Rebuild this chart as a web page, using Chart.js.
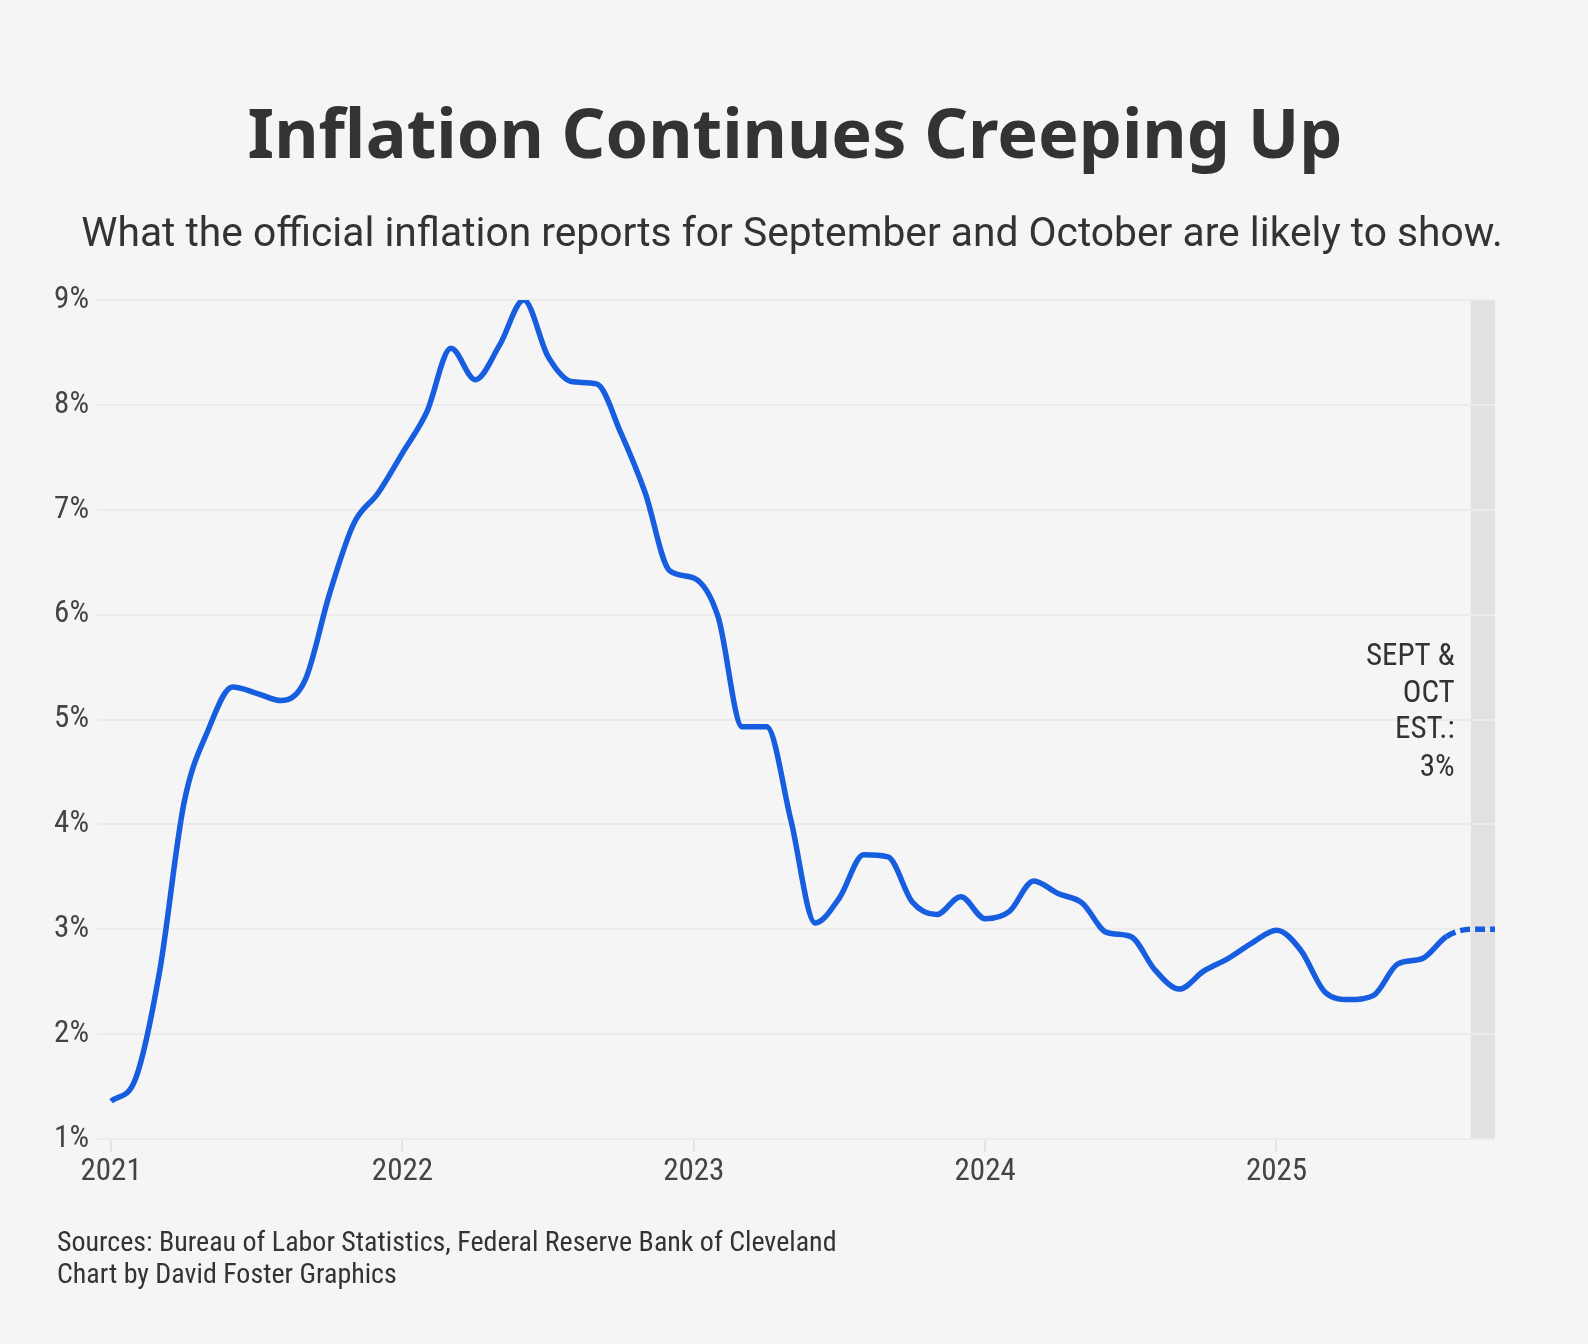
<!DOCTYPE html>
<html>
<head>
<meta charset="utf-8">
<script src="https://cdn.jsdelivr.net/npm/chart.js@4.4.1/dist/chart.umd.min.js"></script>
<style>
html,body{margin:0;padding:0;background:#f5f5f5;}
canvas{display:block;}
</style>
</head>
<body>
<canvas id="c" width="1588" height="1344"></canvas>
<script>
// ---------- DATA ----------
const yearLabels = ['2021', '2022', '2023', '2024', '2025'];
const yearTickIndex = [0, 12, 24, 36, 48];           // month index of each January
const cpi2021 = [1.36, 1.57, 2.6, 4.2, 4.9, 5.31, 5.25, 5.18, 5.38, 6.2, 6.87, 7.16];
const cpi2022 = [7.54, 7.93, 8.54, 8.24, 8.57, 9.0, 8.46, 8.22, 8.2, 7.73, 7.16, 6.42];
const cpi2023 = [6.35, 5.98, 4.93, 4.93, 4.04, 3.06, 3.3, 3.71, 3.69, 3.26, 3.14, 3.31];
const cpi2024 = [3.1, 3.17, 3.46, 3.34, 3.25, 2.97, 2.93, 2.61, 2.43, 2.6, 2.72, 2.87];
const cpi2025 = [2.99, 2.8, 2.4, 2.33, 2.37, 2.67, 2.72, 2.93];
const estimateSepOct = [3.0, 3.0];
const yTickValues = [1, 2, 3, 4, 5, 6, 7, 8, 9];
const titleText = 'Inflation Continues Creeping Up';
const subtitleText = 'What the official inflation reports for September and October are likely to show.';
const annotationLines = ['SEPT &', 'OCT', 'EST.:', '3%'];
const footerLines = ['Sources: Bureau of Labor Statistics, Federal Reserve Bank of Cleveland', 'Chart by David Foster Graphics'];

const actual = [].concat(cpi2021, cpi2022, cpi2023, cpi2024, cpi2025);
const series = actual.concat(estimateSepOct);
const firstEstimate = actual.length;          // index of Sep 2025
const lastIndex = series.length - 1;          // Oct 2025
const points = series.map((v, i) => ({x: i, y: v}));

// ---------- FONTS ----------
function fontAvailable(name) {
  const c = document.createElement('canvas').getContext('2d');
  const s = 'mmmmmmmmmmlli1234567890WWabc';
  let r = false;
  ['monospace', 'serif'].forEach(g => {
    c.font = '48px ' + g; const a = c.measureText(s).width;
    c.font = '48px "' + name + '", ' + g; const b = c.measureText(s).width;
    if (a !== b) r = true;
  });
  return r;
}
let NARROW = 'Roboto', narrowScale = 0.88;
if (fontAvailable('Roboto Condensed')) { NARROW = 'Roboto Condensed'; narrowScale = 1; }
else if (fontAvailable('Liberation Sans Narrow')) { NARROW = 'Liberation Sans Narrow'; narrowScale = 1; }
const NARROW_FAMILY = '"' + NARROW + '", Roboto, sans-serif';

const mctx = document.createElement('canvas').getContext('2d');
function fitSize(text, fam, weight, targetW) {
  mctx.font = weight + ' 100px ' + fam;
  return 100 * targetW / mctx.measureText(text).width;
}
const titleSize = fitSize(titleText, '"Noto Sans"', '700', 1095);
const subtitleSize = fitSize(subtitleText, 'Roboto', '400', 1422);
const footerSize = fitSize(footerLines[0], NARROW_FAMILY, '400', 780);
const tickSize = Math.round(31 * narrowScale);

// ---------- PLUGINS ----------
const background = {
  id: 'background',
  beforeDraw(chart) {
    const {ctx, chartArea, scales} = chart;
    ctx.save();
    ctx.fillStyle = '#f5f5f5';
    ctx.fillRect(0, 0, chart.width, chart.height);
    const x0 = scales.x.getPixelForValue(firstEstimate);
    const x1 = scales.x.getPixelForValue(lastIndex);
    ctx.fillStyle = '#e1e1e1';
    ctx.fillRect(x0, chartArea.top, x1 - x0, chartArea.bottom - chartArea.top);
    ctx.restore();
  }
};

const texts = {
  id: 'texts',
  afterDraw(chart) {
    const {ctx, scales} = chart;
    ctx.save();
    ctx.fillStyle = '#333333';
    ctx.textBaseline = 'alphabetic';
    ctx.textAlign = 'center';
    ctx.font = '700 ' + titleSize + 'px "Noto Sans"';
    ctx.fillText(titleText, 795, 158);
    ctx.font = '400 ' + subtitleSize + 'px Roboto';
    ctx.fillText(subtitleText, 792, 246);

    // annotation
    const ax = scales.x.getPixelForValue(firstEstimate) - 16;
    ctx.textAlign = 'right';
    ctx.font = '400 ' + (31 * narrowScale) + 'px ' + NARROW_FAMILY;
    const base = [665, 702, 738, 776];
    annotationLines.forEach((t, i) => ctx.fillText(t, ax, base[i]));

    // footer
    ctx.textAlign = 'left';
    ctx.font = '400 ' + footerSize + 'px ' + NARROW_FAMILY;
    ctx.fillText(footerLines[0], 57, 1251);
    ctx.fillText(footerLines[1], 57, 1283);
    ctx.restore();
  }
};

// ---------- CHART ----------
new Chart(document.getElementById('c'), {
  type: 'line',
  data: {
    datasets: [{
      data: points,
      borderColor: '#175de0',
      borderWidth: 5.5,
      pointRadius: 0,
      fill: false,
      cubicInterpolationMode: 'monotone',
      segment: {
        borderDash: c => (c.p0DataIndex >= firstEstimate - 1 ? [10, 5] : undefined)
      }
    }]
  },
  options: {
    responsive: false,
    animation: false,
    devicePixelRatio: 1,
    layout: {padding: {left: 0, right: 93, top: 300, bottom: 145}},
    plugins: {legend: {display: false}, tooltip: {enabled: false}, title: {display: false}},
    scales: {
      x: {
        type: 'linear',
        min: -0.58,
        max: lastIndex,
        afterBuildTicks: s => { s.ticks = yearTickIndex.map(v => ({value: v})); },
        afterFit: s => { s.height = 60; },
        ticks: {
          callback: v => yearLabels[yearTickIndex.indexOf(v)],
          color: '#444444',
          font: {family: NARROW_FAMILY, size: tickSize},
          padding: 2,
          maxRotation: 0,
          autoSkip: false
        },
        grid: {display: true, drawOnChartArea: false, drawTicks: true, tickLength: 13, color: '#e4e4e4', lineWidth: 2},
        border: {display: false}
      },
      y: {
        min: yTickValues[0],
        max: yTickValues[yTickValues.length - 1],
        afterBuildTicks: s => { s.ticks = yTickValues.map(v => ({value: v})); },
        afterFit: s => { s.width = 97; },
        ticks: {
          callback: v => v + '%',
          color: '#444444',
          font: {family: NARROW_FAMILY, size: tickSize},
          padding: 8
        },
        grid: {color: '#ebebeb', lineWidth: 2, drawTicks: false},
        border: {display: false}
      }
    }
  },
  plugins: [background, texts]
});
</script>
</body>
</html>
